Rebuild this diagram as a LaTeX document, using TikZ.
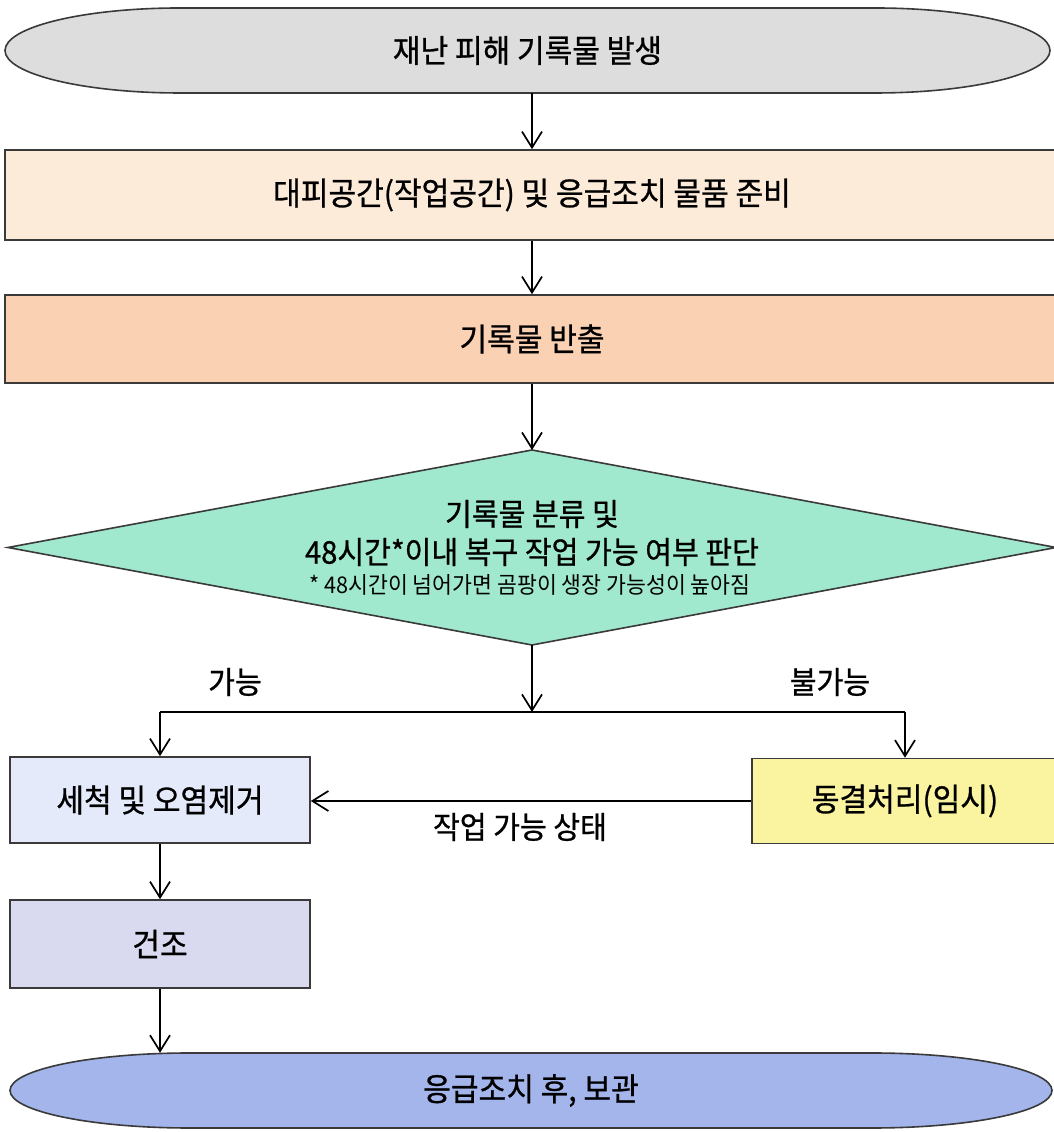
\documentclass[tikz,border=0pt]{standalone}
\usepackage{fontspec}
\usetikzlibrary{arrows.meta}
\newfontfamily\kr[FakeStretch=0.94,FakeBold=0.8]{Noto Sans CJK KR}
\newfontfamily\krs[FakeStretch=0.94]{Noto Sans CJK KR}
\definecolor{edge}{HTML}{3A3A3A}
\definecolor{cTop}{HTML}{DDDDDD}
\definecolor{cPrep}{HTML}{FDEBDA}
\definecolor{cOut}{HTML}{FBD1B3}
\definecolor{cDec}{HTML}{A0E9CF}
\definecolor{cWash}{HTML}{E4EAFA}
\definecolor{cFrz}{HTML}{FAF3A0}
\definecolor{cDry}{HTML}{D9DAF0}
\definecolor{cEnd}{HTML}{A3B5EA}
\newcommand\mystadium[8]{% name, cx, cy, w, ry, rx, fill, text
  \draw[line width=1.6pt, draw=edge, fill=#7]
    ({#2-#4/2+#6},{#3+#5}) -- ({#2+#4/2-#6},{#3+#5})
    arc[start angle=90,end angle=-90,x radius=#6pt,y radius=#5pt]
    -- ({#2-#4/2+#6},{#3-#5})
    arc[start angle=270,end angle=90,x radius=#6pt,y radius=#5pt] -- cycle;
  \node[txt, minimum width=#4pt, minimum height=2*#5pt] (#1) at (#2,#3) {#8};}
\begin{document}
\begin{tikzpicture}[x=1pt,y=1pt,
  txt/.style={font=\kr\fontsize{32}{36}\selectfont, inner sep=0pt, text=black},
  box/.style={txt, draw=edge, line width=1.6pt, rectangle},
  lbl/.style={font=\kr\fontsize{31}{35}\selectfont, inner sep=0pt},
  conn/.style={line width=1.8pt, draw=black},
  arr/.style={conn, -{Straight Barb[length=16pt,width=20pt,line width=1.7pt]}}]
\useasboundingbox (0,0) rectangle (1054,1132);
\fill[white] (0,0) rectangle (1054,1132);
% top terminal
\mystadium{top}{527.5}{1081.5}{1045}{42.5}{175}{cTop}{재난 피해 기록물 발생}
% boxes
\node[box, fill=cPrep, minimum width=1054pt, minimum height=90pt] (prep) at (532,937) {대피공간(작업공간) 및 응급조치 물품 준비};
\node[box, fill=cOut, minimum width=1054pt, minimum height=88pt] (out) at (532,793) {기록물 반출};
% decision diamond
\coordinate (dN) at (532,682);
\coordinate (dS) at (532,487);
\coordinate (dW) at (8,584.5);
\coordinate (dE) at (1056,584.5);
\draw[line width=1.6pt, draw=edge, fill=cDec] (dN) -- (dE) -- (dS) -- (dW) -- cycle;
\node[lbl] (dec1) at (532,618) {기록물 분류 및};
\node[lbl] (dec2) at (532,580) {48시간*이내 복구 작업 가능 여부 판단};
\node[font=\krs\fontsize{23}{26}\selectfont, inner sep=0pt] (dec3) at (530,547) {* 48시간이 넘어가면 곰팡이 생장 가능성이 높아짐};
% branch boxes
\node[box, fill=cWash, minimum width=300pt, minimum height=86pt] (wash) at (160,332) {세척 및 오염제거};
\node[box, fill=cFrz, minimum width=306pt, minimum height=85pt] (frz) at (905,331) {동결처리(임시)};
\node[box, fill=cDry, minimum width=300pt, minimum height=88pt] (dry) at (160,188) {건조};
% bottom terminal
\mystadium{bot}{531}{41.5}{1042}{37.5}{180}{cEnd}{응급조치 후, 보관}
% junction
\coordinate (jn) at (532,420);
% connectors
\draw[arr] (top.south -| prep.north) -- (prep.north);
\draw[arr] (prep.south) -- (out.north);
\draw[arr] (out.south) -- (dN);
\draw[arr] (dS) -- (jn);
\draw[conn] (wash.north |- jn) -- (frz.north |- jn);
\draw[arr] (wash.north |- jn) -- (wash.north);
\draw[arr] (frz.north |- jn) -- (frz.north);
\draw[arr] (frz.west) -- (frz.west -| wash.east);
\draw[arr] (wash.south) -- (dry.north);
\draw[arr] (dry.south) -- (dry.south |- bot.north);
% labels
\node[lbl] (lyes) at (235,450) {가능};
\node[lbl] (lno) at (830,450) {불가능};
\node[lbl] (lback) at (520,305) {작업 가능 상태};
\end{tikzpicture}
\end{document}
